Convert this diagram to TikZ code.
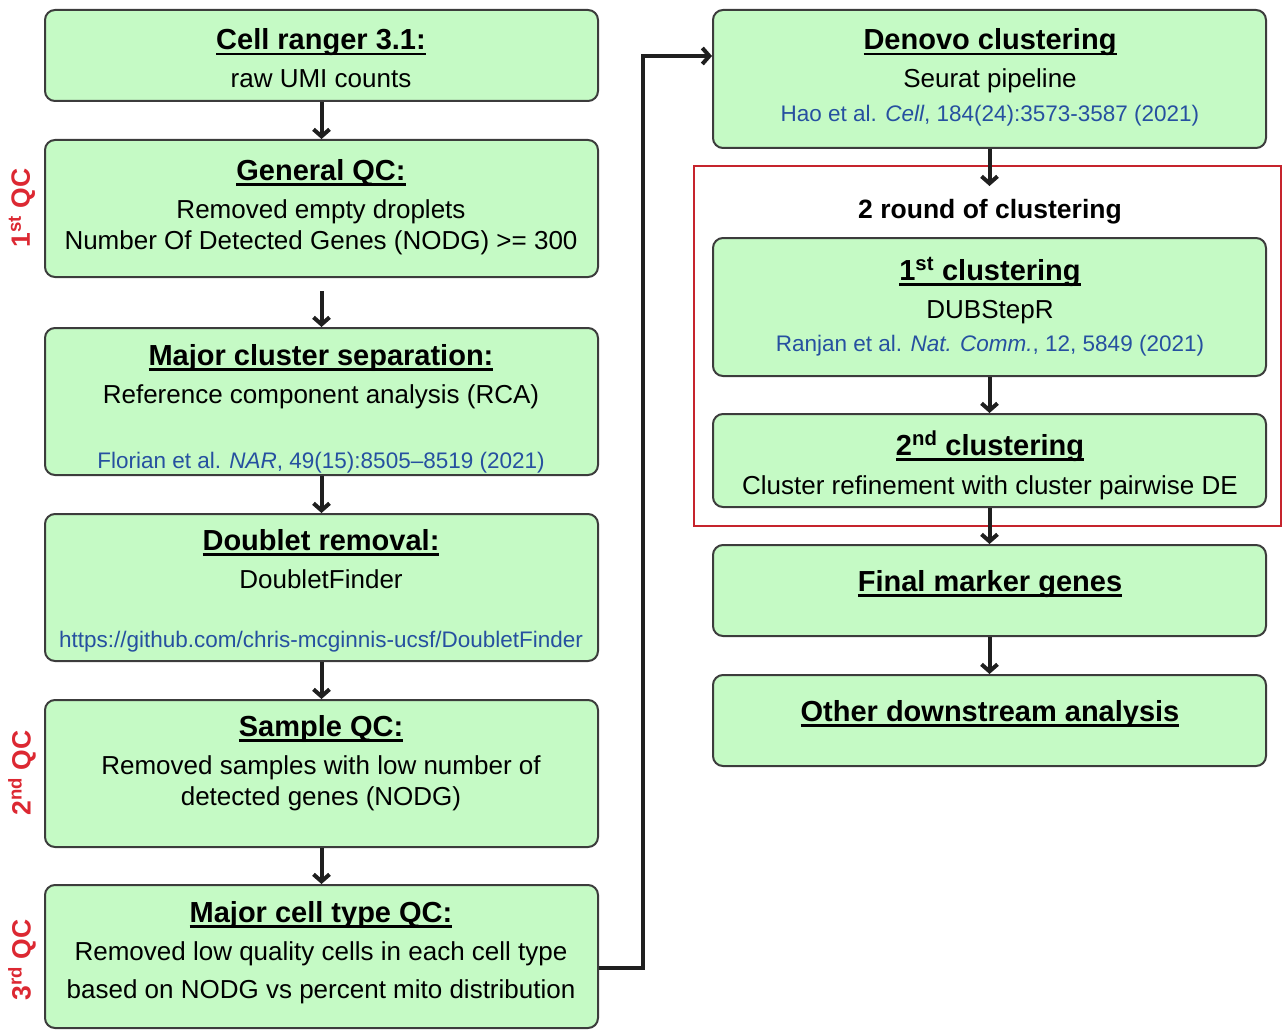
\documentclass[tikz,border=0pt]{standalone}
\usepackage{fontspec}
\setmainfont{Liberation Sans}
\usetikzlibrary{arrows.meta}
\definecolor{boxgreen}{RGB}{197,250,197}
\definecolor{citeblue}{RGB}{38,80,160}
\definecolor{qcred}{RGB}{220,40,50}
\definecolor{edgegray}{RGB}{60,60,60}
\newcommand\ulx[1]{\leavevmode\vtop{\setbox0\hbox{#1}\dp0=0pt\box0\kern3.2pt\hrule height 2.3pt}}
\begin{document}
\begin{tikzpicture}[x=1pt,y=-1pt,
  box/.style={draw=edgegray, line width=2pt, fill=boxgreen, rounded corners=10pt, inner sep=0pt},
  ttl/.style={anchor=base, font=\fontsize{29}{34}\selectfont\bfseries, inner sep=0pt},
  body/.style={anchor=base, font=\fontsize{26}{31}\selectfont, inner sep=0pt},
  refc/.style={anchor=base, font=\fontsize{22.5}{27}\selectfont, text=citeblue, inner sep=0pt},
  arr/.style={line width=4pt, draw=black!88, -{Straight Barb[length=7pt,width=16pt]}},
  qc/.style={font=\fontsize{26.5}{31}\selectfont\bfseries, text=qcred, rotate=90, inner sep=0pt}]
\useasboundingbox (0,0) rectangle (1282,1030);
% red group box
\node[draw=qcred!90!black, line width=2pt, minimum width=587pt, minimum height=360pt, inner sep=0pt] (rb) at (987.5,346) {};
% left boxes
\node[box, minimum width=553pt, minimum height=91pt]  (b1) at (321.5,55.5) {};
\node[box, minimum width=553pt, minimum height=137pt] (b2) at (321.5,208.5) {};
\node[box, minimum width=553pt, minimum height=147pt] (b3) at (321.5,401.5) {};
\node[box, minimum width=553pt, minimum height=147pt] (b4) at (321.5,587.5) {};
\node[box, minimum width=553pt, minimum height=147pt] (b5) at (321.5,773.5) {};
\node[box, minimum width=553pt, minimum height=143pt] (b6) at (321.5,956.5) {};
% right boxes
\node[box, minimum width=553pt, minimum height=138pt] (dn) at (989.5,79) {};
\node[box, minimum width=553pt, minimum height=138pt] (c1) at (989.5,307) {};
\node[box, minimum width=553pt, minimum height=93pt]  (c2) at (989.5,460.5) {};
\node[box, minimum width=553pt, minimum height=91pt]  (fm) at (989.5,590.5) {};
\node[box, minimum width=553pt, minimum height=91pt]  (od) at (989.5,720.5) {};
% texts left
\node[ttl]  (t1a) at (321,50)  {\ulx{Cell ranger 3.1:}};
\node[body] (t1b) at (321,88)  {raw UMI counts};
\node[ttl]  (t2a) at (321,180) {\ulx{General QC:}};
\node[body] (t2b) at (321,218) {Removed empty droplets};
\node[body] (t2c) at (321,249) {Number Of Detected Genes (NODG) >= 300};
\node[ttl]  (t3a) at (321,365) {\ulx{Major cluster separation:}};
\node[body] (t3b) at (321,403) {Reference component analysis (RCA)};
\node[refc] (t3c) at (321,468) {Florian et al. \textit{NAR}, 49(15):8505--8519 (2021)};
\node[ttl]  (t4a) at (321,550) {\ulx{Doublet removal:}};
\node[body] (t4b) at (321,588) {DoubletFinder};
\node[refc] (t4c) at (321,647) {https://github.com/chris-mcginnis-ucsf/DoubletFinder};
\node[ttl]  (t5a) at (321,736) {\ulx{Sample QC:}};
\node[body] (t5b) at (321,774) {Removed samples with low number of};
\node[body] (t5c) at (321,805) {detected genes (NODG)};
\node[ttl]  (t6a) at (321,922) {\ulx{Major cell type QC:}};
\node[body] (t6b) at (321,960) {Removed low quality cells in each cell type};
\node[body] (t6c) at (321,998) {based on NODG vs percent mito distribution};
% texts right
\node[ttl]  (r1a) at (990,50)  {\ulx{Denovo clustering}};
\node[body] (r1b) at (990,88)  {Seurat pipeline};
\node[refc] (r1c) at (990,122) {Hao et al. \textit{Cell}, 184(24):3573-3587 (2021)};
\node[anchor=base, font=\fontsize{26.5}{31}\selectfont\bfseries, inner sep=0pt] (rnd) at (990,218) {2 round of clustering};
\node[ttl]  (r2a) at (990,280) {\ulx{1\textsuperscript{st} clustering}};
\node[body] (r2b) at (990,318) {DUBStepR};
\node[refc] (r2c) at (990,351) {Ranjan et al. \textit{Nat. Comm.}, 12, 5849 (2021)};
\node[ttl]  (r3a) at (990,455) {\ulx{2\textsuperscript{nd} clustering}};
\node[body] (r3b) at (990,494) {Cluster refinement with cluster pairwise DE};
\node[ttl]  (r4a) at (990,591) {\ulx{Final marker genes}};
\node[ttl]  (r5a) at (990,721) {\ulx{Other downstream analysis}};
% QC labels
\node[qc] (q1) at (22,208) {1\textsuperscript{st} QC};
\node[qc] (q2) at (22,773) {2\textsuperscript{nd} QC};
\node[qc] (q3) at (22,960) {3\textsuperscript{rd} QC};
% arrows left
\draw[arr] (b1.south) -- (b2.north);
\draw[arr, shorten <=13pt] (b2.south) -- (b3.north);
\draw[arr] (b3.south) -- (b4.north);
\draw[arr] (b4.south) -- (b5.north);
\draw[arr] (b5.south) -- (b6.north);
% arrows right
\coordinate (rin) at (989.5,186);
\draw[arr] (dn.south) -- (rin);
\draw[arr] (c1.south) -- (c2.north);
\draw[arr] (c2.south) -- (fm.north);
\draw[arr] (fm.south) -- (od.north);
% long connector
\coordinate (k1) at (643,968);
\coordinate (k2) at (643,56);
\draw[arr, line join=miter] (b6.east |- k1) -- (k1) -- (k2) -- (dn.west |- k2);
\end{tikzpicture}
\end{document}
